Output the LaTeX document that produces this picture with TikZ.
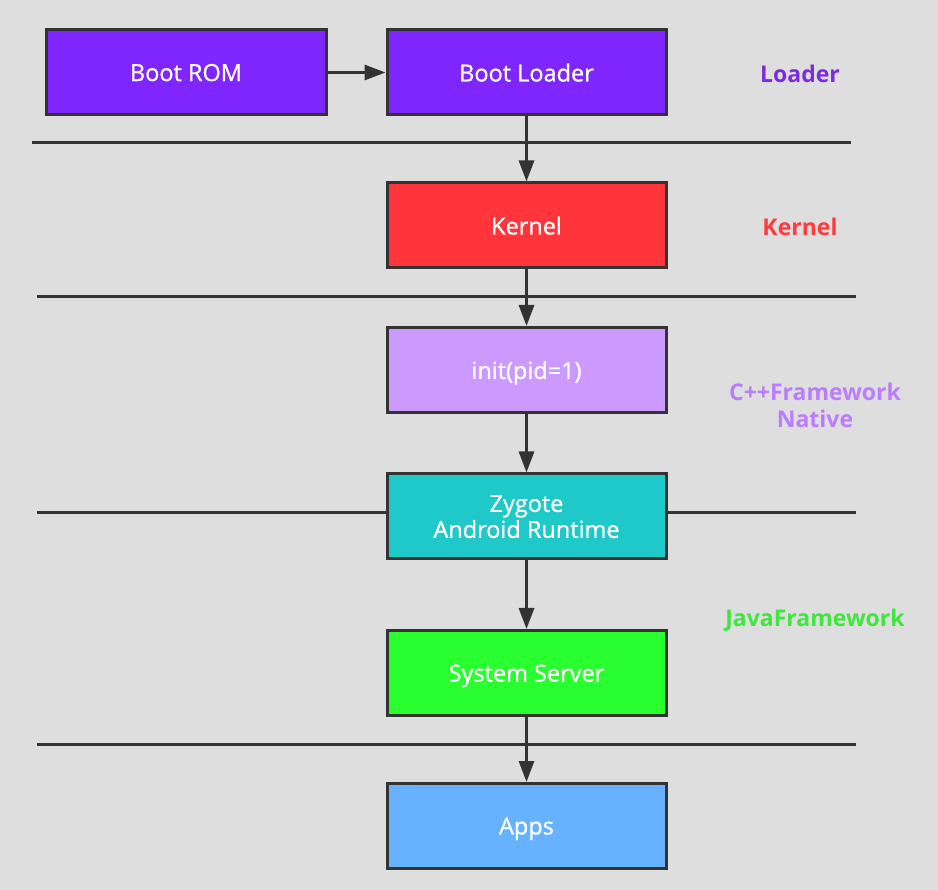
\documentclass[tikz,border=0pt]{standalone}
\usepackage{fontspec}
\setmainfont{Open Sans}
\newfontfamily\boxfont[FakeBold=0.9]{Open Sans}
\usetikzlibrary{arrows.meta}
\definecolor{bg}{HTML}{DEDEDE}
\definecolor{edge}{HTML}{333333}
\definecolor{cboot}{HTML}{7F26FF}
\definecolor{ckern}{HTML}{FF353B}
\definecolor{cinit}{HTML}{CC99FF}
\definecolor{czyg}{HTML}{1FC9C9}
\definecolor{csys}{HTML}{29FF2E}
\definecolor{capps}{HTML}{66B2FF}
\definecolor{lload}{HTML}{7B2BE0}
\definecolor{lkern}{HTML}{FF3B3B}
\definecolor{lnat}{HTML}{BB7CFF}
\definecolor{ljava}{HTML}{3EE63E}
\begin{document}
\begin{tikzpicture}[x=1pt,y=-1pt,
  box/.style={draw=edge,line width=3pt,minimum width=279pt,minimum height=85pt,
    inner sep=0pt,text=white,font=\boxfont\fontsize{23.5}{26}\selectfont,align=center,
    text depth=0pt},
  lab/.style={font=\fontsize{23}{27}\selectfont\bfseries,align=center},
  sep/.style={draw=edge,line width=3pt},
  arr/.style={draw=edge,line width=3pt,-{Triangle[length=21pt,width=15pt]}}]
\fill[bg] (0,0) rectangle (938,890);
\useasboundingbox (0,0) rectangle (938,890);
% separators
\coordinate (s1a) at (32,143); \coordinate (s1b) at (851,143);
\coordinate (s2a) at (37,297); \coordinate (s2b) at (856,297);
\coordinate (s3a) at (37,513); \coordinate (s3b) at (856,513);
\coordinate (s4a) at (37,744); \coordinate (s4b) at (856,744);
\draw[sep] (s1a) -- (s1b);
\draw[sep] (s2a) -- (s2b);
\draw[sep] (s3a) -- (s3b);
\draw[sep] (s4a) -- (s4b);
% boxes
\node[box,fill=cboot,minimum width=280pt] (rom) at (186,72.5) {Boot ROM};
\node[box,fill=cboot] (loader) at (526.5,72.5) {Boot Loader};
\node[box,fill=ckern] (kernel) at (526.5,225.5) {Kernel};
\node[box,fill=cinit] (init) at (526.5,370) {init(pid=1)};
\node[box,fill=czyg] (zyg) at (526.5,516.5) {Zygote\\Android Runtime};
\node[box,fill=csys] (sys) at (526.5,673) {System Server};
\node[box,fill=capps] (apps) at (526.5,826) {Apps};
% labels
\node[lab,text=lload] (l1) at (800,74) {Loader};
\node[lab,text=lkern] (l2) at (800,227) {Kernel};
\node[lab,text=lnat] (l3) at (815,405.5) {C++Framework\\Native};
\node[lab,text=ljava] (l4) at (815,620) {JavaFramework};
% arrows
\draw[arr] (rom) -- (loader);
\draw[arr] (loader) -- (kernel);
\draw[arr] (kernel) -- (init);
\draw[arr] (init) -- (zyg);
\draw[arr] (zyg) -- (sys);
\draw[arr] (sys) -- (apps);
\end{tikzpicture}
\end{document}
